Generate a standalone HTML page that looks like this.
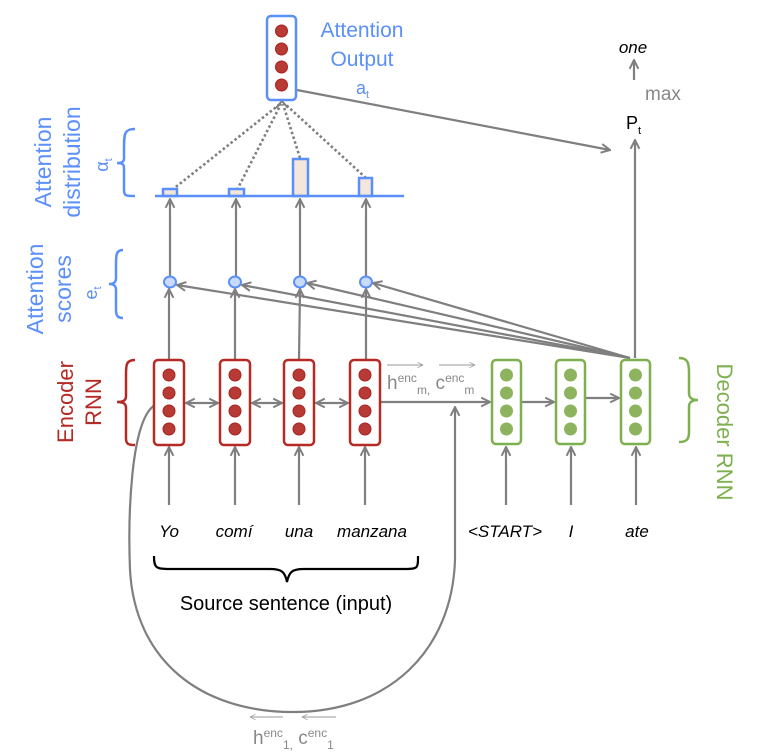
<!DOCTYPE html>
<html><head><meta charset="utf-8"><style>
html,body{margin:0;padding:0;background:#fff;}
svg{display:block;font-family:"Liberation Sans",sans-serif;}
</style></head><body>
<svg width="765" height="753" viewBox="0 0 765 753" xmlns="http://www.w3.org/2000/svg">
<defs>
<marker id="a" viewBox="0 0 10 10" refX="9" refY="5" markerWidth="5" markerHeight="5" orient="auto-start-reverse"><path d="M1,1 L9,5 L1,9" fill="none" stroke="#7f7f7f" stroke-width="1.8"/></marker>
<marker id="t" viewBox="0 0 10 10" refX="9" refY="5" markerWidth="7" markerHeight="7" orient="auto"><path d="M1,1 L9,5 L1,9" fill="none" stroke="#999" stroke-width="1"/></marker>
</defs>
<g stroke="#7f7f7f" stroke-width="2.2" fill="none">
<path d="M155,405 C130,420 128,520 130,570 C135,660 200,712 293,712 C390,712 452,650 455,560 L455,407" marker-end="url(#a)"/>
<line x1="169" y1="505" x2="169" y2="447" marker-end="url(#a)"/>
<line x1="235" y1="505" x2="235" y2="447" marker-end="url(#a)"/>
<line x1="299" y1="505" x2="299" y2="447" marker-end="url(#a)"/>
<line x1="365" y1="505" x2="365" y2="447" marker-end="url(#a)"/>
<line x1="506" y1="505" x2="506" y2="447" marker-end="url(#a)"/>
<line x1="571" y1="505" x2="571" y2="447" marker-end="url(#a)"/>
<line x1="636" y1="505" x2="636" y2="447" marker-end="url(#a)"/>
<line x1="186" y1="403" x2="218" y2="403" marker-start="url(#a)" marker-end="url(#a)"/>
<line x1="252" y1="403" x2="282" y2="403" marker-start="url(#a)" marker-end="url(#a)"/>
<line x1="316" y1="403" x2="348" y2="403" marker-start="url(#a)" marker-end="url(#a)"/>
<line x1="380" y1="402" x2="490" y2="402" marker-end="url(#a)"/>
<line x1="521" y1="402" x2="554" y2="402" marker-end="url(#a)"/>
<line x1="586" y1="398" x2="619" y2="398" marker-end="url(#a)"/>
<line x1="169" y1="360" x2="169" y2="289" marker-end="url(#a)"/>
<line x1="235" y1="360" x2="235" y2="289" marker-end="url(#a)"/>
<line x1="299" y1="360" x2="300" y2="289" marker-end="url(#a)"/>
<line x1="366" y1="360" x2="366" y2="289" marker-end="url(#a)"/>
<line x1="630" y1="358" x2="177" y2="285" marker-end="url(#a)"/>
<line x1="630" y1="358" x2="242" y2="285" marker-end="url(#a)"/>
<line x1="630" y1="358" x2="307" y2="283" marker-end="url(#a)"/>
<line x1="630" y1="358" x2="373" y2="283" marker-end="url(#a)"/>
<line x1="170" y1="277" x2="170" y2="199" marker-end="url(#a)"/>
<line x1="236" y1="277" x2="236" y2="199" marker-end="url(#a)"/>
<line x1="300" y1="277" x2="300" y2="199" marker-end="url(#a)"/>
<line x1="366" y1="277" x2="366" y2="199" marker-end="url(#a)"/>
<line x1="635" y1="358" x2="635" y2="140" marker-end="url(#a)"/>
<line x1="297" y1="90" x2="610" y2="150" marker-end="url(#a)"/>
<line x1="634" y1="80" x2="634" y2="60" marker-end="url(#a)"/>
</g>
<g stroke="#7f7f7f" stroke-width="2.6" stroke-dasharray="2.5,2.5" fill="none">
<line x1="172" y1="190" x2="280" y2="104"/>
<line x1="237" y1="190" x2="281" y2="104"/>
<line x1="300" y1="158" x2="283" y2="104"/>
<line x1="366" y1="178" x2="285" y2="104"/>
</g>
<path d="M276,108 L282,101 L288,108" stroke="#7f7f7f" stroke-width="2" fill="none"/>
<g stroke="#5b8ff9" stroke-width="2.5" fill="#f3e6da">
<rect x="163" y="189" width="14" height="7"/>
<rect x="229" y="189" width="15" height="7"/>
<rect x="293" y="159" width="15" height="37"/>
<rect x="359" y="178" width="13" height="18"/>
</g>
<line x1="155" y1="196" x2="404" y2="196" stroke="#5b8ff9" stroke-width="2.5"/>
<g stroke="#5b8ff9" stroke-width="2" fill="#c9dafa">
<ellipse cx="170" cy="282" rx="6" ry="5.5"/><ellipse cx="235" cy="282" rx="6" ry="5.5"/>
<ellipse cx="300" cy="282" rx="6" ry="5.5"/><ellipse cx="366" cy="282" rx="6" ry="5.5"/>
</g>
<rect x="267" y="16" width="29" height="84" rx="4" fill="#fff" stroke="#5b8ff9" stroke-width="2.5"/>
<g fill="#b73a35" stroke="#a22" stroke-width="1">
<circle cx="281.5" cy="31" r="6"/><circle cx="281.5" cy="49" r="6"/><circle cx="281.5" cy="67" r="6"/><circle cx="281.5" cy="85" r="6"/>
</g>
<g fill="#fff" stroke="#b52a25" stroke-width="2.5">
<rect x="154" y="360" width="30" height="85" rx="4"/><rect x="220" y="360" width="30" height="85" rx="4"/>
<rect x="284" y="360" width="30" height="85" rx="4"/><rect x="350" y="360" width="30" height="85" rx="4"/>
</g>
<g fill="#b73a35" stroke="#a22" stroke-width="1">
<circle cx="169" cy="375" r="6"/><circle cx="169" cy="393" r="6"/><circle cx="169" cy="411" r="6"/><circle cx="169" cy="429" r="6"/>
<circle cx="235" cy="375" r="6"/><circle cx="235" cy="393" r="6"/><circle cx="235" cy="411" r="6"/><circle cx="235" cy="429" r="6"/>
<circle cx="299" cy="375" r="6"/><circle cx="299" cy="393" r="6"/><circle cx="299" cy="411" r="6"/><circle cx="299" cy="429" r="6"/>
<circle cx="365" cy="375" r="6"/><circle cx="365" cy="393" r="6"/><circle cx="365" cy="411" r="6"/><circle cx="365" cy="429" r="6"/>
</g>
<g fill="#fff" stroke="#7fb050" stroke-width="2.5">
<rect x="492" y="360" width="29" height="84" rx="4"/><rect x="556" y="360" width="29" height="84" rx="4"/><rect x="621" y="360" width="29" height="84" rx="4"/>
</g>
<g fill="#8db35f">
<circle cx="506.5" cy="375" r="6.5"/><circle cx="506.5" cy="393" r="6.5"/><circle cx="506.5" cy="411" r="6.5"/><circle cx="506.5" cy="429" r="6.5"/>
<circle cx="570.5" cy="375" r="6.5"/><circle cx="570.5" cy="393" r="6.5"/><circle cx="570.5" cy="411" r="6.5"/><circle cx="570.5" cy="429" r="6.5"/>
<circle cx="635.5" cy="375" r="6.5"/><circle cx="635.5" cy="393" r="6.5"/><circle cx="635.5" cy="411" r="6.5"/><circle cx="635.5" cy="429" r="6.5"/>
</g>
<path d="M135,129 C124,129 124,134 124,150 L124,158 C124,162 122,163 117,163 C122,163 124,164 124,168 L124,190 C124,196 126,196 135,196" fill="none" stroke="#5b8ff9" stroke-width="2.5"/>
<path d="M123,250 C116,250 116,255 116,265 L116,278 C116,282 114,284 109,284 C114,284 116,286 116,290 L116,310 C116,316 118,318 123,318" fill="none" stroke="#5b8ff9" stroke-width="2.5"/>
<path d="M135,360 C126,360 126,365 126,375 L126,396 C126,400 124,402 117,402 C124,402 126,404 126,408 L126,438 C126,444 128,445 135,445" fill="none" stroke="#b52a25" stroke-width="2.5"/>
<path d="M679,358 C688,358 689,363 689,373 L689,393 C689,397 691,400 698,400 C691,400 689,403 689,407 L689,432 C689,440 686,442 679,442" fill="none" stroke="#7fb050" stroke-width="2.5"/>
<path d="M154,556 C154,568 156,569 170,569 L270,569 C282,569 285,572 287,582 C289,572 292,569 304,569 L405,569 C418,569 418,568 418,556" fill="none" stroke="#000" stroke-width="2.2"/>
<g fill="#5b8ff9" font-size="21">
<text x="362" y="37" text-anchor="middle">Attention</text>
<text x="362" y="66" text-anchor="middle">Output</text>
<text x="356" y="94" font-size="18">a<tspan font-size="11" dy="4">t</tspan></text>
<text transform="translate(51,162) rotate(-90)" text-anchor="middle" font-size="23">Attention</text>
<text transform="translate(80,162) rotate(-90)" text-anchor="middle" font-size="23">distribution</text>
<text transform="translate(108,165) rotate(-90)" text-anchor="middle" font-size="18">α<tspan font-size="11" dy="4">t</tspan></text>
<text transform="translate(43,289) rotate(-90)" text-anchor="middle" font-size="23">Attention</text>
<text transform="translate(71,289) rotate(-90)" text-anchor="middle" font-size="23">scores</text>
<text transform="translate(97,293) rotate(-90)" text-anchor="middle" font-size="18">e<tspan font-size="11" dy="4">t</tspan></text>
</g>
<g fill="#b52a25" font-size="22">
<text transform="translate(73,402) rotate(-90)" text-anchor="middle">Encoder</text>
<text transform="translate(101,402) rotate(-90)" text-anchor="middle">RNN</text>
</g>
<text transform="translate(717,432) rotate(90)" text-anchor="middle" fill="#7fb050" font-size="22">Decoder RNN</text>
<g font-size="17" font-style="italic" fill="#000" text-anchor="middle">
<text x="169" y="537">Yo</text><text x="234" y="537">comí</text><text x="299" y="537">una</text><text x="372" y="537">manzana</text>
<text x="505" y="537">&lt;START&gt;</text><text x="571" y="537">I</text><text x="637" y="537">ate</text>
<text x="633" y="53">one</text>
</g>
<text x="286" y="610" text-anchor="middle" font-size="20" fill="#000">Source sentence (input)</text>
<text x="645" y="100" font-size="19" fill="#888">max</text>
<text x="626" y="129" font-size="18" fill="#000">P<tspan font-size="11" dy="5">t</tspan></text>
<g fill="#888" font-size="19">
<text x="387" y="389">h<tspan font-size="12" dy="-7">enc</tspan><tspan font-size="12" dy="12">m,</tspan><tspan dy="-5"> c</tspan><tspan font-size="12" dy="-7">enc</tspan><tspan font-size="12" dy="12">m</tspan></text>
<text x="253" y="744">h<tspan font-size="12" dy="-7">enc</tspan><tspan font-size="12" dy="12">1,</tspan><tspan dy="-5"> c</tspan><tspan font-size="12" dy="-7">enc</tspan><tspan font-size="12" dy="12">1</tspan></text>
</g>
<g stroke="#999" stroke-width="1" fill="none">
<line x1="387" y1="365" x2="423" y2="365" marker-end="url(#t)"/>
<line x1="439" y1="365" x2="475" y2="365" marker-end="url(#t)"/>
<line x1="283" y1="717" x2="250" y2="717" marker-end="url(#t)"/>
<line x1="336" y1="717" x2="302" y2="717" marker-end="url(#t)"/>
</g>
</svg>
</body></html>
